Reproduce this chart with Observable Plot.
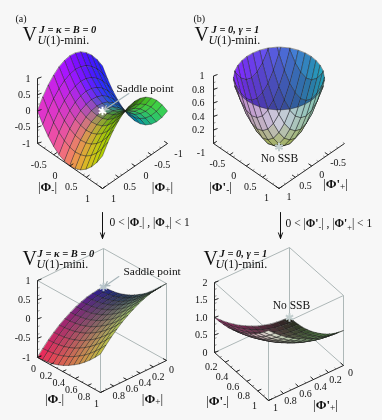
<!DOCTYPE html>
<html><head><meta charset="utf-8">
<script src="https://cdn.jsdelivr.net/npm/d3@7"></script>
<script src="https://cdn.jsdelivr.net/npm/@observablehq/plot@0.6"></script>
<style>html,body{margin:0;padding:0;background:#f7f7f7}svg{display:block;filter:blur(0.35px)}</style>
</head><body><div id="chart"></div>
<script>
// ---------- values ----------
const phiFull = [-1,-5/6,-4/6,-3/6,-2/6,-1/6,0,1/6,2/6,3/6,4/6,5/6,1];
const phiHalf = [0,1/12,2/12,3/12,4/12,5/12,6/12,7/12,8/12,9/12,10/12,11/12,1];

const saddleFull = [
[0,.31,.56,.75,.89,.97,1,.97,.89,.75,.56,.31,0],
[-.31,0,.25,.44,.58,.66,.69,.66,.58,.44,.25,0,-.31],
[-.56,-.25,0,.19,.33,.41,.44,.41,.33,.19,0,-.25,-.56],
[-.75,-.44,-.19,0,.14,.22,.25,.22,.14,0,-.19,-.44,-.75],
[-.89,-.58,-.33,-.14,0,.08,.11,.08,0,-.14,-.33,-.58,-.89],
[-.97,-.66,-.41,-.22,-.08,0,.03,0,-.08,-.22,-.41,-.66,-.97],
[-1,-.69,-.44,-.25,-.11,-.03,0,-.03,-.11,-.25,-.44,-.69,-1],
[-.97,-.66,-.41,-.22,-.08,0,.03,0,-.08,-.22,-.41,-.66,-.97],
[-.89,-.58,-.33,-.14,0,.08,.11,.08,0,-.14,-.33,-.58,-.89],
[-.75,-.44,-.19,0,.14,.22,.25,.22,.14,0,-.19,-.44,-.75],
[-.56,-.25,0,.19,.33,.41,.44,.41,.33,.19,0,-.25,-.56],
[-.31,0,.25,.44,.58,.66,.69,.66,.58,.44,.25,0,-.31],
[0,.31,.56,.75,.89,.97,1,.97,.89,.75,.56,.31,0]];

const bowlFull = [
[2,1.69,1.44,1.25,1.11,1.03,1,1.03,1.11,1.25,1.44,1.69,2],
[1.69,1.38,1.13,.94,.8,.72,.69,.72,.8,.94,1.13,1.38,1.69],
[1.44,1.13,.88,.69,.55,.47,.44,.47,.55,.69,.88,1.13,1.44],
[1.25,.94,.69,.5,.36,.28,.25,.28,.36,.5,.69,.94,1.25],
[1.11,.8,.55,.36,.22,.14,.11,.14,.22,.36,.55,.8,1.11],
[1.03,.72,.47,.28,.14,.06,.03,.06,.14,.28,.47,.72,1.03],
[1,.69,.44,.25,.11,.03,0,.03,.11,.25,.44,.69,1],
[1.03,.72,.47,.28,.14,.06,.03,.06,.14,.28,.47,.72,1.03],
[1.11,.8,.55,.36,.22,.14,.11,.14,.22,.36,.55,.8,1.11],
[1.25,.94,.69,.5,.36,.28,.25,.28,.36,.5,.69,.94,1.25],
[1.44,1.13,.88,.69,.55,.47,.44,.47,.55,.69,.88,1.13,1.44],
[1.69,1.38,1.13,.94,.8,.72,.69,.72,.8,.94,1.13,1.38,1.69],
[2,1.69,1.44,1.25,1.11,1.03,1,1.03,1.11,1.25,1.44,1.69,2]];

const saddleHalf = [
[0,-.01,-.03,-.06,-.11,-.17,-.25,-.34,-.44,-.56,-.69,-.84,-1],
[.01,0,-.02,-.05,-.1,-.16,-.24,-.33,-.43,-.55,-.68,-.83,-.99],
[.03,.02,0,-.03,-.08,-.14,-.22,-.31,-.41,-.53,-.66,-.81,-.97],
[.06,.05,.03,0,-.05,-.11,-.19,-.28,-.38,-.5,-.63,-.78,-.94],
[.11,.1,.08,.05,0,-.06,-.14,-.23,-.33,-.45,-.58,-.73,-.89],
[.17,.16,.14,.11,.06,0,-.08,-.17,-.27,-.39,-.52,-.67,-.83],
[.25,.24,.22,.19,.14,.08,0,-.09,-.19,-.31,-.44,-.59,-.75],
[.34,.33,.31,.28,.23,.17,.09,0,-.1,-.22,-.35,-.5,-.66],
[.44,.43,.41,.38,.33,.27,.19,.1,0,-.12,-.25,-.4,-.56],
[.56,.55,.53,.5,.45,.39,.31,.22,.12,0,-.13,-.28,-.44],
[.69,.68,.66,.63,.58,.52,.44,.35,.25,.13,0,-.15,-.31],
[.84,.83,.81,.78,.73,.67,.59,.5,.4,.28,.15,0,-.16],
[1,.99,.97,.94,.89,.83,.75,.66,.56,.44,.31,.16,0]];

const bowlHalf = [
[0,.01,.03,.06,.11,.17,.25,.34,.44,.56,.69,.84,1],
[.01,.02,.04,.07,.12,.18,.26,.35,.45,.57,.7,.85,1.01],
[.03,.04,.06,.09,.14,.2,.28,.37,.47,.59,.72,.87,1.03],
[.06,.07,.09,.12,.17,.23,.31,.4,.5,.62,.75,.9,1.06],
[.11,.12,.14,.17,.22,.28,.36,.45,.55,.67,.8,.95,1.11],
[.17,.18,.2,.23,.28,.34,.42,.51,.61,.73,.86,1.01,1.17],
[.25,.26,.28,.31,.36,.42,.5,.59,.69,.81,.94,1.09,1.25],
[.34,.35,.37,.4,.45,.51,.59,.68,.78,.9,1.03,1.18,1.34],
[.44,.45,.47,.5,.55,.61,.69,.78,.88,1,1.13,1.28,1.44],
[.56,.57,.59,.62,.67,.73,.81,.9,1,1.12,1.25,1.4,1.56],
[.69,.7,.72,.75,.8,.86,.94,1.03,1.13,1.25,1.38,1.53,1.69],
[.84,.85,.87,.9,.95,1.01,1.09,1.18,1.28,1.4,1.53,1.68,1.84],
[1,1.01,1.03,1.06,1.11,1.17,1.25,1.34,1.44,1.56,1.69,1.84,2]];

const zTicksA = [1,0.5,0,-0.5,-1];
const zTicksB = [1,0.8,0.6,0.4,0.2];
const zTicksC = [1,0.5,0,-0.5,-1];
const zTicksD = [2,1.5,1,0.5,0];
const fullAxisTicksA = [-0.5,0,0.5,1];
const fullAxisTicksAll = [-1,-0.5,0,0.5,1];
const halfAxisTicks = [0,0.2,0.4,0.6,0.8];
const halfAxisTicksTail = [0.2,0.4,0.6,0.8,1];
const halfAxisTicksAll = [0,0.2,0.4,0.6,0.8,1];

// ---------- colours of the lit surfaces ----------
const cl = v => Math.round(255*Math.max(0,Math.min(1,v)));
const rgb = (r,g,b) => `rgb(${cl(r)},${cl(g)},${cl(b)})`;
const mix = (p,q,t) => p.map((v,k)=>v+(q[k]-v)*t);
const bilin = (c00,c01,c10,c11,s,t) => mix(mix(c00,c01,t),mix(c10,c11,t),s);
const clamp01 = v => Math.max(0,Math.min(1,v));

function colorSaddle(a,b,z,nx,ny){
  const d = 1-.7*Math.max(0,-nx)*(1-Math.abs(ny))**2;
  const lift=Math.max(0,-nx)*Math.max(0,-ny)*.45;
  return rgb((.45+.55*ny+.1*nx)*d+lift,(.5-.5*nx+.05*ny)*d+lift*.3,(.5+.6*nx-.2*ny)*d+.03+lift*.4);
}
function colorBowl(a,b,z){
  const u=(a-b)/1.41, v=(a+b)/1.41;
  const shade=.6+.4*z;
  const base=[(.33-.2*u)*shade,(.4+.25*u)*shade,(.88-.15*u)*shade];
  const center=[.8,.8,.86];
  const pale=u<0?mix(center,[.74,.5,.78],-u):mix(center,[.46,.76,.66],u);
  const low=[.62,.68,.34];
  let c=mix(base,pale,clamp01((v+.1)/.35));
  if(v>-.1) c=mix(c,low,clamp01((.7-z)/.55));
  return rgb(...c);
}
function colorSaddleHalf(a,b){
  let c=bilin([.1,.1,.6],[.95,.15,.35],[.5,.85,.6],[.75,.75,.25],a,b);
  const dark=1-.5*Math.sin(Math.PI*a)*(1-b)*(1-b);
  return rgb(c[0]*dark,c[1]*dark,c[2]*dark);
}
function colorBowlHalf(a,b){
  return rgb(...bilin([.13,.13,.1],[.6,.15,.4],[.35,.62,.3],[.9,.9,.85],a,b));
}

// ---------- the four 3D frames (page layout, not data) ----------
const panels = [
 {id:"a",phi:phiFull,zs:saddleFull,back:[102,98],da:[65,45],db:[-65,45],zpx:32.5,zmin:-1,color:colorSaddle,mesh:.8,
  zTicks:zTicksA,zTop:1,aTicks:fullAxisTicksA,bTicks:fullAxisTicksAll,aOff:[-15,10],bOff:[11,10],zOff:-7},
 {id:"b",phi:phiFull,zs:bowlFull,back:[278.5,98],da:[65.5,45],db:[-65.5,45],zpx:67.5,zmin:0,clip:.96,color:colorBowl,mesh:.85,
  zTicks:zTicksB,zTop:1,aTicks:fullAxisTicksAll,bTicks:fullAxisTicksA,aOff:[-12.5,9.5],bOff:[10,8.5],zOff:-9},
 {id:"c",phi:phiHalf,zs:saddleHalf,back:[103,325],da:[63,35],db:[-66,32],zpx:38.5,zmin:-1,color:colorSaddleHalf,mesh:.8,box:true,
  zTicks:zTicksC,zTop:1,aTicks:halfAxisTicksAll,bTicks:halfAxisTicks,aOff:[-4,11],bOff:[5,9.5],zOff:-7},
 {id:"d",phi:phiHalf,zs:bowlHalf,back:[289,317],da:[54,48],db:[-75,35],zpx:35,zmin:0,color:colorBowlHalf,mesh:.85,box:true,
  zTicks:zTicksD,zTop:2,aTicks:halfAxisTicksTail,bTicks:halfAxisTicksAll,aOff:[-14,5],bOff:[7,7.5],zOff:-7}
];
panels.forEach(p=>{
  const lo=p.phi[0],hi=p.phi[p.phi.length-1];
  p.lo=lo;p.hi=hi;
  p.t=v=>(v-lo)/(hi-lo);
  p.proj=(a,b,z)=>[
    p.back[0]+p.da[0]*p.t(a)+p.db[0]*p.t(b),
    p.back[1]+p.da[1]*p.t(a)+p.db[1]*p.t(b)-p.zpx*(z-p.zmin)];
});

function clipTop(poly,limit){
  const out=[];
  poly.forEach((c,k)=>{
    const n=poly[(k+1)%poly.length];
    if(c.z<=limit) out.push(c);
    if((c.z<=limit)!==(n.z<=limit)){
      const s=(limit-c.z)/(n.z-c.z);
      out.push({a:c.a+(n.a-c.a)*s,b:c.b+(n.b-c.b)*s,z:limit});
    }
  });
  return out;
}
function cells(p){
  const list=[],N=p.phi.length;
  for(let i=0;i<N-1;i++)for(let j=0;j<N-1;j++)list.push([i,j]);
  list.sort((x,y)=>(x[0]+x[1])-(y[0]+y[1])||(x[0]-y[0]));
  const rows=[];
  for(const [i,j] of list){
    const A=p.phi,Z=p.zs;
    let poly=[{a:A[i],b:A[j],z:Z[i][j]},{a:A[i+1],b:A[j],z:Z[i+1][j]},{a:A[i+1],b:A[j+1],z:Z[i+1][j+1]},{a:A[i],b:A[j+1],z:Z[i][j+1]}];
    const ca=(A[i]+A[i+1])/2,cb=(A[j]+A[j+1])/2,cz=(Z[i][j]+Z[i+1][j]+Z[i+1][j+1]+Z[i][j+1])/4;
    const h=A[i+1]-A[i];
    const dza=(Z[i+1][j]+Z[i+1][j+1]-Z[i][j]-Z[i][j+1])/(2*h), dzb=(Z[i][j+1]+Z[i+1][j+1]-Z[i][j]-Z[i+1][j])/(2*h);
    const len=Math.hypot(dza,dzb,1);
    const nx=-dza/len,ny=-dzb/len;
    const col=p.id==="a"?p.color(ca,cb,cz,nx,ny):p.id==="b"?p.color(ca,cb,cz):p.color(p.t(ca),p.t(cb));
    if(p.clip!==undefined){poly=clipTop(poly,p.clip); if(poly.length<3)continue;}
    for(const q of poly){const [x,y]=p.proj(q.a,q.b,q.z);rows.push({x,y,cell:`${p.id}${i}-${j}`,col});}
  }
  return rows;
}
function surfaceMark(p){
  return Plot.line(cells(p),{x:"x",y:"y",z:"cell",fill:"col",curve:"linear-closed",stroke:"#1c1c1c",strokeWidth:.5,strokeOpacity:p.mesh});
}

// frame lines
const links = p => {
  const {lo,hi,zmin,zTop:zt}=p, P=p.proj, L=(u,v)=>({x1:u[0],y1:u[1],x2:v[0],y2:v[1]});
  return {
    axes:[L(P(lo,hi,zmin),P(hi,hi,zmin)),L(P(hi,lo,zmin),P(hi,hi,zmin)),L(P(lo,hi,zmin),P(lo,hi,zt))],
    box:p.box?[L(P(lo,lo,zmin),P(lo,lo,zt)),L(P(lo,lo,zt),P(lo,hi,zt)),L(P(lo,lo,zt),P(hi,lo,zt)),L(P(hi,hi,zt),P(lo,hi,zt)),L(P(hi,hi,zt),P(hi,lo,zt)),
      L(P(hi,hi,zmin),P(hi,hi,zt)),L(P(hi,lo,zmin),P(hi,lo,zt)),L(P(lo,lo,zmin),P(lo,hi,zmin)),L(P(lo,lo,zmin),P(hi,lo,zmin))]:[]
  };
};
function tickRows(p){
  const out=[],minor=[],labels=[],P=p.proj,{lo,hi,zmin}=p;
  const unit=v=>{const m=Math.hypot(...v);return [v[0]/m,v[1]/m];};
  const along=(vals,fn,dir,off)=>{
    vals.forEach(v=>{
      const s=fn(v);
      out.push({x1:s[0],y1:s[1],x2:s[0]+dir[0]*4,y2:s[1]+dir[1]*4});
      labels.push({x:s[0]+off[0],y:s[1]+off[1],text:String(v)});
    });
    d3.range(lo,hi+1e-6,(hi-lo)/10).forEach(v=>{
      const s=fn(v);
      minor.push({x1:s[0],y1:s[1],x2:s[0]+dir[0]*2,y2:s[1]+dir[1]*2});
    });
  };
  along(p.aTicks,v=>P(v,hi,zmin),unit([-p.db[0],-p.db[1]]),p.aOff);
  along(p.bTicks,v=>P(hi,v,zmin),unit([-p.da[0],-p.da[1]]),p.bOff);
  const zl=[];
  p.zTicks.forEach(v=>{
    const s=P(lo,hi,v);
    out.push({x1:s[0],y1:s[1],x2:s[0]+4,y2:s[1]-1.5});
    zl.push({x:s[0]+p.zOff,y:s[1],text:p.id==="d"&&v===1?"1.0":String(v)});
  });
  d3.range(p.zmin,p.zTop+1e-6,(p.zTop-p.zmin)/10).forEach(v=>{
    const s=P(lo,hi,v);
    minor.push({x1:s[0],y1:s[1],x2:s[0]+2,y2:s[1]-.8});
  });
  return {out,minor,labels,zl};
}

// text placement on the page
const FONT="Liberation Serif";
const titles=[
 {x:22,y:34,sup:"J = κ = B = 0",sx:39,sy:29,sub:"^U^(1)-mini.",bx:37,by:40},
 {x:194,y:34,sup:"J = 0, γ = 1",sx:211,sy:29,sub:"^U^(1)-mini.",bx:208,by:40},
 {x:22,y:258,sup:"J = κ = B = 0",sx:37,sy:253,sub:"^U^(1)-mini.",bx:36,by:264},
 {x:203,y:258,sup:"J = 0, γ = 1",sx:219,sy:253,sub:"^U^(1)-mini.",bx:215,by:264}
];
const notes=[
 {x:15,y:18,text:"(a)",s:10,anchor:"start"},
 {x:193,y:18,text:"(b)",s:10,anchor:"start"},
 {x:116,y:88,text:"Saddle point",s:11.4,anchor:"start"},
 {x:279,y:158,text:"No SSB",s:11.5,anchor:"middle"},
 {x:123,y:271,text:"Saddle point",s:11.4,anchor:"start"},
 {x:291,y:305,text:"No SSB",s:11.5,anchor:"middle"},
 {x:109,y:222,text:"0 < |#Φ#~-~| , |#Φ#~+~| < 1",s:11.5,anchor:"start"},
 {x:285,y:223,text:"0 < |#Φ'#~-~| , |#Φ'#~+~| < 1",s:11.5,anchor:"start"},
 {x:47,y:186,text:"|#Φ#~-~|",s:13,anchor:"middle"},
 {x:162,y:186,text:"|#Φ#~+~|",s:13,anchor:"middle"},
 {x:220,y:186,text:"|#Φ'#~-~|",s:13,anchor:"middle"},
 {x:335,y:183,text:"|#Φ'#~+~|",s:13,anchor:"middle"},
 {x:54,y:398,text:"|#Φ#~-~|",s:13,anchor:"middle"},
 {x:152,y:398,text:"|#Φ#~+~|",s:13,anchor:"middle"},
 {x:217,y:400,text:"|#Φ'#~-~|",s:13,anchor:"middle"},
 {x:325,y:404,text:"|#Φ'#~+~|",s:13,anchor:"middle"}
];
const bigArrows=[{x1:102,y1:212,x2:102,y2:238},{x1:280,y1:212,x2:280,y2:238}];
const pointers=[{x1:130,y1:92,p:panels[0],q:[0,0,0]},{x1:120,y1:275,p:panels[2],q:[0,0,0]}];
const stars=[{p:panels[0],q:[0,0,0],c:"#ffffff"},{p:panels[1],q:[1/6,1/6,.06],c:"#c3cfcf"},{p:panels[2],q:[0,0,0],c:"#b9c6cc"},{p:panels[3],q:[0,0,0],c:"#c3cfcf"}];

const marks=[];
panels.forEach(p=>{
  const l=links(p);
  if(l.box.length) marks.push(Plot.link(l.box,{x1:"x1",y1:"y1",x2:"x2",y2:"y2",stroke:"#aeb8b8",strokeWidth:1}));
  marks.push(surfaceMark(p));
});
const tickLabels=[],zLabels=[];
panels.forEach(p=>{
  const l=links(p),t=tickRows(p);
  marks.push(Plot.link(l.axes.concat(t.out),{x1:"x1",y1:"y1",x2:"x2",y2:"y2",stroke:"#111",strokeWidth:.9}));
  marks.push(Plot.link(t.minor,{x1:"x1",y1:"y1",x2:"x2",y2:"y2",stroke:"#333",strokeWidth:.5}));
  tickLabels.push(...t.labels);zLabels.push(...t.zl);
});
const starRows=stars.map(s=>{const [x,y]=s.p.proj(...s.q);return {x,y,c:s.c};});
marks.push(Plot.dot(starRows,{x:"x",y:"y",symbol:"asterisk",r:4,stroke:"c",strokeWidth:2}));
marks.push(Plot.arrow(pointers.map(o=>{const [x2,y2]=o.p.proj(...o.q);return {x1:o.x1,y1:o.y1,x2,y2};}),{x1:"x1",y1:"y1",x2:"x2",y2:"y2",stroke:"#a9b6ba",strokeWidth:1.2,bend:0,headLength:6,inset:2}));
marks.push(Plot.arrow(bigArrows,{x1:"x1",y1:"y1",x2:"x2",y2:"y2",stroke:"#111",strokeWidth:1,bend:0,headLength:9,headAngle:40}));

const txt=(rows,anchor,extra={})=>Plot.text(rows,{x:"x",y:"y",text:"text",textAnchor:anchor,fontFamily:FONT,fill:"#111",fontSize:10,...extra});
marks.push(txt(tickLabels,"middle"));
marks.push(txt(zLabels,"end"));
["start","middle"].forEach(k=>marks.push(txt(notes.filter(n=>n.anchor===k),k,{fontSize:d=>d.s})));
marks.push(txt(titles.map(t=>({x:t.x,y:t.y,text:"V"})),"start",{fontSize:20}));
marks.push(txt(titles.map(t=>({x:t.sx,y:t.sy,text:t.sup})),"start",{fontSize:10.5,fontStyle:"italic",fontWeight:"bold"}));
marks.push(txt(titles.map(t=>({x:t.bx,y:t.by,text:t.sub})),"start",{fontSize:12}));

const chart=Plot.plot({width:382,height:420,margin:0,
  x:{domain:[0,382],range:[0,382],axis:null},
  y:{domain:[0,420],range:[0,420],axis:null},
  color:{type:"identity"},
  style:{background:"#f7f7f7",overflow:"hidden"},
  marks});

// sub-scripts and italics inside the real text
chart.querySelectorAll("text").forEach(el=>{
  const s=el.textContent;
  if(!/[~^#]/.test(s))return;
  el.textContent="";
  const ns="http://www.w3.org/2000/svg";
  let back=false;
  s.split(/(~[^~]*~|\^[^^]*\^|#[^#]*#)/).filter(Boolean).forEach(tok=>{
    const t=document.createElementNS(ns,"tspan");
    let dy=back?-2.5:0; back=false;
    if(tok[0]==="~"){t.textContent=tok.slice(1,-1);t.setAttribute("font-size","72%");dy+=2.5;back=true;}
    else if(tok[0]==="^"){t.textContent=tok.slice(1,-1);t.setAttribute("font-style","italic");}
    else if(tok[0]==="#"){t.textContent=tok.slice(1,-1);t.setAttribute("font-weight","bold");}
    else t.textContent=tok;
    if(dy)t.setAttribute("dy",dy);
    el.appendChild(t);
  });
});
document.getElementById("chart").appendChild(chart);
</script></body></html>
